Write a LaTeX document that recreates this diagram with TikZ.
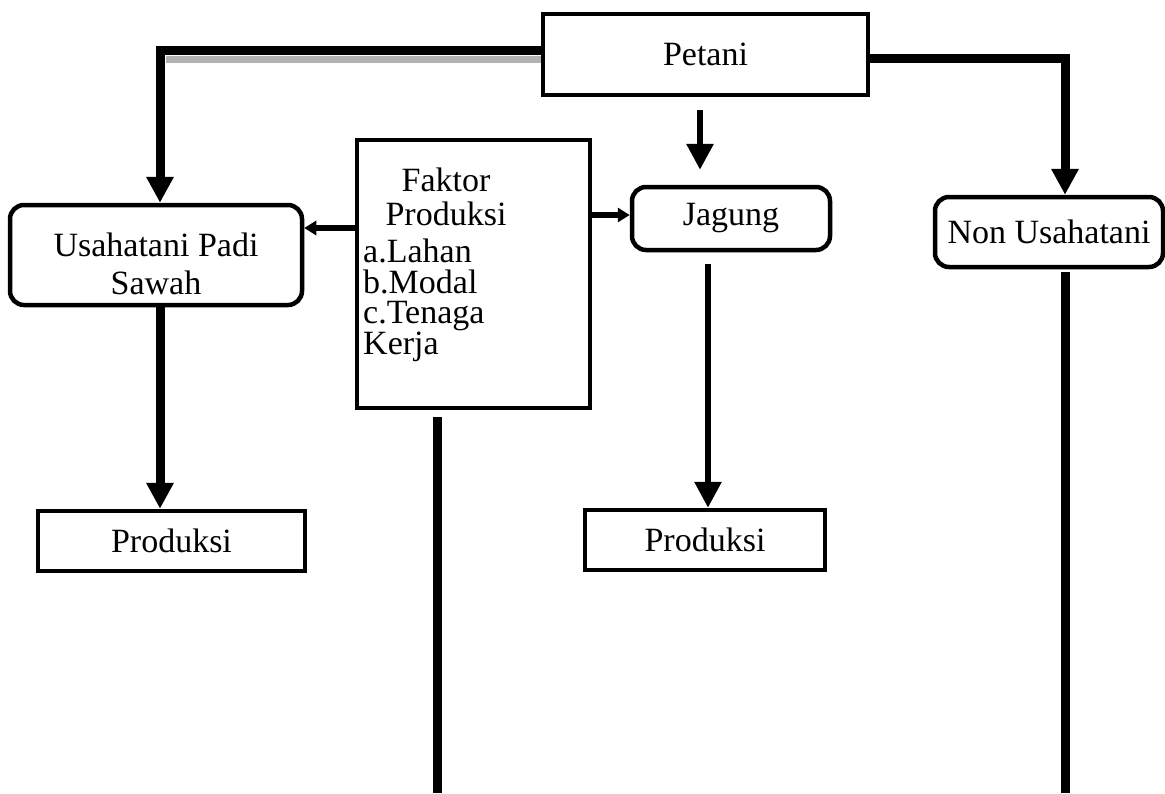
\documentclass[tikz,border=0pt]{standalone}
\usepackage{fontspec}
\setmainfont{Liberation Serif}
\usetikzlibrary{arrows.meta}
\begin{document}
\begin{tikzpicture}[x=1pt,y=-1pt,
  box/.style={draw=black,line width=4.5pt,inner sep=0pt,font=\fontsize{34}{36}\selectfont},
  rbox/.style={box,rounded corners=14pt},
  thick line/.style={line width=9pt},
  mid line/.style={line width=6pt},
  bigtip/.style={-{Triangle[length=26pt,width=26pt]}},
  smalltip/.style={-{Triangle[length=12pt,width=14pt]}},
  txt/.style={inner sep=0pt,font=\fontsize{34}{36}\selectfont}
]
\useasboundingbox (0,0) rectangle (1165,793);
% boxes
\node[box,minimum width=325pt,minimum height=81pt] (petani) at (705.5,54.5) {Petani};
\node[rbox,minimum width=292pt,minimum height=100pt] (usaha) at (156,255) {};
\node[txt,align=center] (usahatxt) at (156,264) {Usahatani Padi\\[2pt]Sawah};
\node[box,minimum width=233pt,minimum height=268pt] (faktor) at (473.5,274) {};
\node[txt,align=center] (ftitle) at (446,197) {Faktor\\[-2pt]Produksi};
\node[txt,anchor=north west,align=left] (flist) at (363,239) {a.Lahan\\[-5.5pt]b.Modal\\[-5.5pt]c.Tenaga\\[-5.5pt]Kerja};
\node[rbox,minimum width=198pt,minimum height=63pt] (jagung) at (731,218.5) {Jagung};
\node[rbox,minimum width=228pt,minimum height=70pt] (nonusaha) at (1049,232) {Non Usahatani};
\node[box,minimum width=267pt,minimum height=60pt] (prod1) at (171.5,541) {Produksi};
\node[box,minimum width=240pt,minimum height=60pt] (prod2) at (705,540) {Produksi};
\coordinate (bot1) at (437,793);
\coordinate (bot2) at (1065,793);
\coordinate (gl) at (166,59);
% connectors
\draw[line width=7pt,black!30] (petani.west |- gl) -- (gl);
\draw[thick line,bigtip] (petani.west |- 0,50) -| (usaha.north -| 160,0);
\draw[thick line,bigtip] (petani.east |- 0,58) -| (nonusaha.north -| 1065,0);
\draw[mid line,bigtip,shorten >=15pt] ([yshift=-13pt]petani.south -| 700,0) -- (jagung.north -| 700,0);
\draw[mid line,smalltip] (faktor.west |- 0,228) -- (usaha.east |- 0,228);
\draw[mid line,smalltip] (faktor.east |- 0,215) -- (jagung.west |- 0,215);
\draw[thick line,bigtip] (usaha.south -| 160,0) -- (prod1.north -| 160,0);
\draw[mid line,bigtip] ([yshift=-12pt]jagung.south -| 708,0) -- (prod2.north -| 708,0);
\draw[thick line] ([yshift=-7pt]faktor.south -| 437,0) -- (bot1);
\draw[thick line] ([yshift=-3pt]nonusaha.south -| 1065,0) -- (bot2);
\end{tikzpicture}
\end{document}
